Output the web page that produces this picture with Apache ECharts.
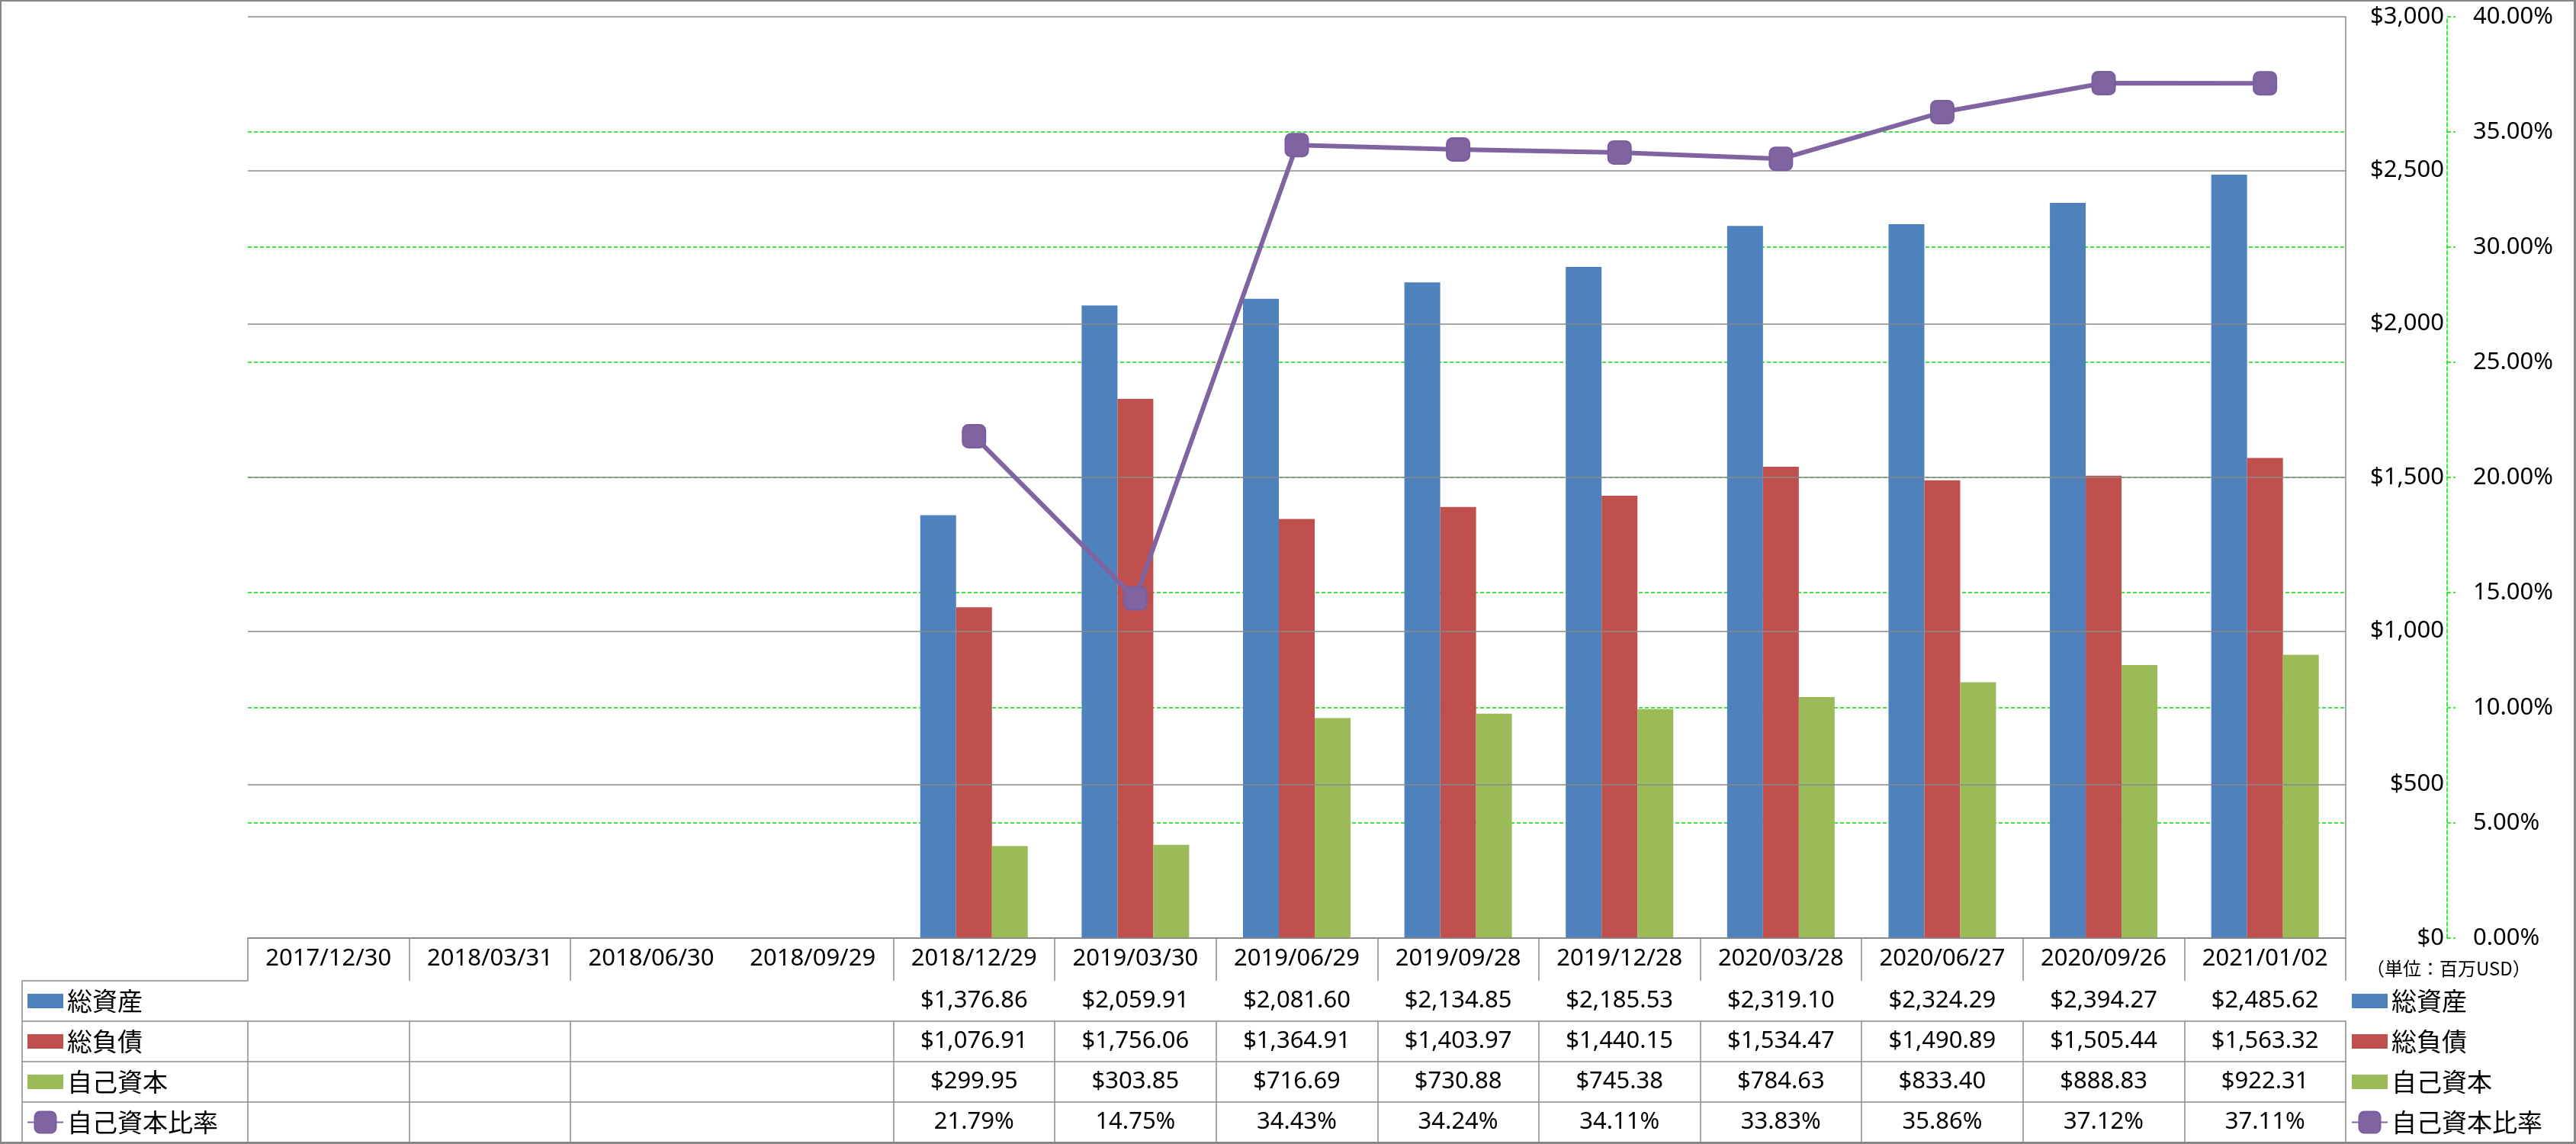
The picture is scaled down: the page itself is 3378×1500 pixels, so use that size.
<!DOCTYPE html>
<html>
<head>
<meta charset="utf-8">
<script src="https://cdn.jsdelivr.net/npm/echarts@6/dist/echarts.min.js"></script>
<style>
html,body{margin:0;padding:0;background:#fff;}
#wrap{position:relative;width:3378px;height:1500px;}
#c{width:3378px;height:1500px;}
#frame{position:absolute;left:0;top:0;width:3378px;height:1500px;box-sizing:border-box;border:2px solid #878787;border-right-width:3px;border-bottom-width:3px;pointer-events:none;}
</style>
</head>
<body>
<div id="wrap"><div id="c"></div><div id="frame"></div></div>
<script>
// ---- data ----
const categories = ['2017/12/30','2018/03/31','2018/06/30','2018/09/29','2018/12/29','2019/03/30','2019/06/29','2019/09/28','2019/12/28','2020/03/28','2020/06/27','2020/09/26','2021/01/02'];
const totalAssets = [null,null,null,null,1376.86,2059.91,2081.60,2134.85,2185.53,2319.10,2324.29,2394.27,2485.62];
const totalLiabilities = [null,null,null,null,1076.91,1756.06,1364.91,1403.97,1440.15,1534.47,1490.89,1505.44,1563.32];
const equity = [null,null,null,null,299.95,303.85,716.69,730.88,745.38,784.63,833.40,888.83,922.31];
const equityRatio = [null,null,null,null,21.79,14.75,34.43,34.24,34.11,33.83,35.86,37.12,37.11];
const seriesNames = ['総資産','総負債','自己資本','自己資本比率'];
const unitNote = '（単位：百万USD）';

// ---- styles ----
const BLUE = '#4F81BD', RED = '#C0504D', GREEN = '#9BBB59', PURPLE = '#8064A2';
const GRAY = '#8a8a8a', LIME = '#00e000';
const LATIN = "'Noto Sans', 'Noto Sans CJK JP', sans-serif";
const CJK = "'Noto Sans CJK JP', 'Noto Sans', sans-serif";

const money2 = v => '$' + v.toLocaleString('en-US', {minimumFractionDigits: 2, maximumFractionDigits: 2});
const pct2 = v => v.toFixed(2) + '%';

const tableRows = [
  {vals: totalAssets, fmt: money2},
  {vals: totalLiabilities, fmt: money2},
  {vals: equity, fmt: money2},
  {vals: equityRatio, fmt: pct2}
];
const rowH = 53, headH = 56;
const tickInterval = (idx) => idx !== 3;

const labelBase = {interval: 0, color: '#000', fontSize: 31, lineHeight: 31, fontFamily: LATIN};

const xAxes = [
  {
    type: 'category', gridIndex: 0, data: categories, position: 'bottom', offset: 0,
    axisLine: {show: true, lineStyle: {color: GRAY, width: 1.5}},
    axisTick: {show: true, length: headH, interval: tickInterval, lineStyle: {color: GRAY, width: 1.5}},
    axisLabel: Object.assign({}, labelBase, {margin: 12}),
    splitLine: {show: false}
  }
];
tableRows.forEach((r, k) => {
  xAxes.push({
    type: 'category', gridIndex: 0, data: categories, position: 'bottom', offset: headH + rowH * k,
    axisLine: {show: true, lineStyle: {color: GRAY, width: 1.5}},
    axisTick: {show: true, length: rowH, interval: tickInterval, lineStyle: {color: GRAY, width: 1.5}},
    axisLabel: Object.assign({}, labelBase, {margin: 11, formatter: (v, i) => r.vals[i] == null ? '' : r.fmt(r.vals[i])}),
    splitLine: {show: false}
  });
});
xAxes.push({type: 'value', gridIndex: 1, show: false});

const keyPath = 'path://M0,0L45,0L45,18L0,18Z';
const legendData = [
  {name: seriesNames[0], icon: keyPath},
  {name: seriesNames[1], icon: keyPath},
  {name: seriesNames[2], icon: keyPath},
  {name: seriesNames[3]}
];
const legendBase = {
  orient: 'vertical', top: 1295, itemWidth: 47, itemHeight: 35, itemGap: 18, padding: 0,
  selectedMode: false, data: legendData,
  textStyle: {fontFamily: CJK, fontSize: 33, lineHeight: 35, color: '#000'}
};

const chart = echarts.init(document.getElementById('c'), null, {renderer: 'canvas'});
chart.setOption({
  animation: false,
  backgroundColor: '#fff',
  grid: [
    {left: 325, right: 302, top: 22, bottom: 270, outerBoundsMode: 'none', containLabel: false},
    {left: 29, top: 1286, width: 296, height: rowH * 4, outerBoundsMode: 'none', containLabel: false}
  ],
  legend: [
    Object.assign({}, legendBase, {left: 35}),
    Object.assign({}, legendBase, {left: 3083})
  ],
  xAxis: xAxes,
  yAxis: [
    {
      type: 'value', gridIndex: 0, position: 'right', min: 0, max: 3000, interval: 500, z: 3,
      axisLine: {show: true, lineStyle: {color: GRAY, width: 1.5}},
      axisTick: {show: false},
      axisLabel: {margin: 129, align: 'right', color: '#000', fontSize: 31, fontFamily: LATIN,
        formatter: v => '$' + v.toLocaleString('en-US')},
      splitLine: {show: true, lineStyle: {color: GRAY, width: 1.5}}
    },
    {
      type: 'value', gridIndex: 0, position: 'right', offset: 133, min: 0, max: 40, interval: 5,
      axisLine: {show: true, lineStyle: {color: LIME, width: 1.5, type: [5, 3]}},
      axisTick: {show: true, length: 11, lineStyle: {color: LIME, width: 1.5, type: [5, 3]}},
      axisLabel: {margin: 34, align: 'left', color: '#000', fontSize: 31, fontFamily: LATIN,
        formatter: v => v.toFixed(2) + '%'},
      splitLine: {show: true, showMinLine: false, showMaxLine: false, lineStyle: {color: LIME, width: 1.5, type: [5, 3]}}
    },
    {
      type: 'category', gridIndex: 1, data: ['', '', '', ''],
      axisLine: {show: true, lineStyle: {color: GRAY, width: 1.5}},
      axisTick: {show: false}, axisLabel: {show: false},
      splitLine: {show: true, interval: 0, showMinLine: true, showMaxLine: true, lineStyle: {color: GRAY, width: 1.5}}
    }
  ],
  graphic: [
    {type: 'text', left: 3103, top: 1258, style: {text: unitNote, fontSize: 24, fontFamily: CJK, fill: '#000'}}
  ],
  series: [
    {name: seriesNames[0], type: 'bar', xAxisIndex: 0, yAxisIndex: 0, data: totalAssets, barWidth: 47, barGap: '0%', itemStyle: {color: BLUE}},
    {name: seriesNames[1], type: 'bar', xAxisIndex: 0, yAxisIndex: 0, data: totalLiabilities, barWidth: 47, barGap: '0%', itemStyle: {color: RED}},
    {name: seriesNames[2], type: 'bar', xAxisIndex: 0, yAxisIndex: 0, data: equity, barWidth: 47, barGap: '0%', itemStyle: {color: GREEN}},
    {name: seriesNames[3], type: 'line', xAxisIndex: 0, yAxisIndex: 1, data: equityRatio, z: 5,
      symbol: 'roundRect', symbolSize: 30,
      lineStyle: {color: PURPLE, width: 6},
      itemStyle: {color: PURPLE, borderColor: '#7a5d9c', borderWidth: 2}}
  ]
});
</script>
</body>
</html>
